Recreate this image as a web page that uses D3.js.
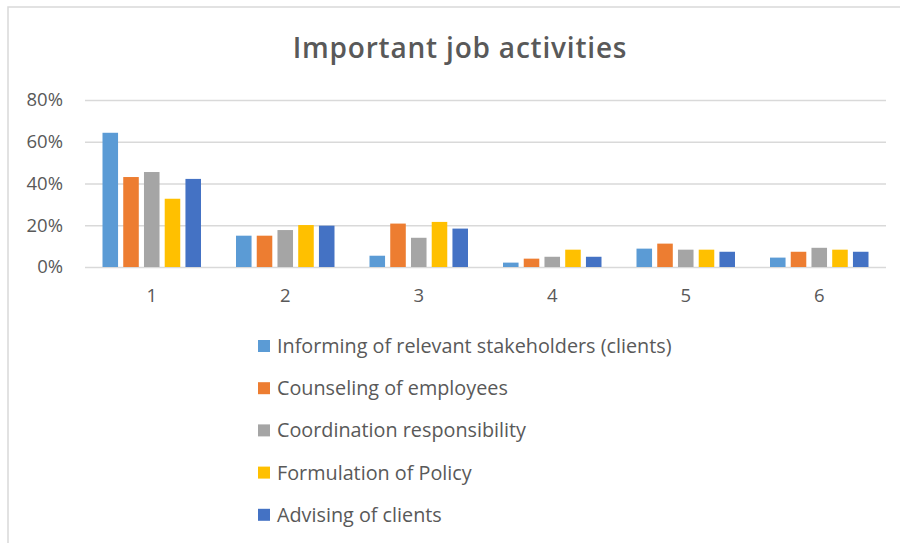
<!DOCTYPE html>
<html>
<head>
<meta charset="utf-8">
<script src="https://cdnjs.cloudflare.com/ajax/libs/d3/7.8.5/d3.min.js"></script>
<style>
  body { margin: 0; background: #fff; }
  svg { display: block; font-family: "Open Sans", sans-serif; }
</style>
</head>
<body>
<svg class="chart"></svg>
<script>
const size = {w: 900, h: 543};

// groups on the x axis
const categories = ['1', '2', '3', '4', '5', '6'];
// series names, in legend order
const seriesNames = [
    'Informing of relevant stakeholders (clients)',
    'Counseling of employees',
    'Coordination responsibility',
    'Formulation of Policy',
    'Advising of clients'
];
const seriesColors = ['#5B9BD5', '#ED7D31', '#A5A5A5', '#FFC000', '#4472C4'];

// values per series (fraction), one per category
const informing = [0.643, 0.150, 0.054, 0.021, 0.088, 0.045];
const counseling = [0.431, 0.150, 0.208, 0.040, 0.112, 0.073];
const coordination = [0.455, 0.177, 0.140, 0.049, 0.083, 0.092];
const policy = [0.327, 0.201, 0.216, 0.083, 0.083, 0.083];
const advising = [0.422, 0.198, 0.184, 0.049, 0.073, 0.073];
const seriesValues = [informing, counseling, coordination, policy, advising];

const yTicks = [0, 0.2, 0.4, 0.6, 0.8];

const plot = {left: 85, right: 886, top: 100, bottom: 267};

const svg = d3.select('svg.chart')
    .attr('width', size.w)
    .attr('height', size.h);

// chart area border (cut off by the picture on the right and bottom)
svg.append('rect')
    .attr('x', 8)
    .attr('y', 7)
    .attr('width', size.w + 20)
    .attr('height', size.h + 20)
    .attr('fill', 'none')
    .attr('stroke', '#d9d9d9')
    .attr('stroke-width', 1.5);

svg.append('text')
    .attr('x', 460)
    .attr('y', 58)
    .attr('text-anchor', 'middle')
    .attr('font-size', 28)
    .attr('font-weight', 600)
    .attr('letter-spacing', 0.8)
    .attr('fill', '#595959')
    .text('Important job activities');

const x = d3.scaleBand()
    .domain(categories)
    .range([plot.left, plot.right]);

const xInner = d3.scaleBand()
    .domain(d3.range(seriesNames.length))
    .range([17.5, x.bandwidth() - 17.5])
    .paddingInner(0.25);

const y = d3.scaleLinear()
    .domain([0, 0.8])
    .range([plot.bottom, plot.top]);

// gridlines + y labels
const yAxis = d3.axisLeft(y)
    .tickValues(yTicks)
    .tickFormat(d3.format('.0%'))
    .tickSize(-(plot.right - plot.left))
    .tickPadding(22);

const yG = svg.append('g')
    .attr('transform', `translate(${plot.left},0)`)
    .call(yAxis);
yG.select('.domain').remove();
yG.selectAll('line').attr('stroke', '#d9d9d9').attr('stroke-width', 1.3);
yG.selectAll('text')
    .attr('fill', '#595959')
    .attr('font-size', 18.5)
    .attr('font-family', '"Open Sans", sans-serif');

// bars
const groups = svg.append('g')
    .selectAll('g')
    .data(categories)
    .join('g')
    .attr('transform', d => `translate(${x(d)},0)`);

groups.selectAll('rect')
    .data((d, i) => seriesValues.map((vals, s) => ({s: s, v: vals[i]})))
    .join('rect')
    .attr('x', d => xInner(d.s))
    .attr('width', xInner.bandwidth())
    .attr('y', d => y(d.v))
    .attr('height', d => plot.bottom - y(d.v))
    .attr('fill', d => seriesColors[d.s]);

// x labels
const xAxis = d3.axisBottom(x).tickSize(0).tickPadding(22);
const xG = svg.append('g')
    .attr('transform', `translate(0,${plot.bottom})`)
    .call(xAxis);
xG.select('.domain').remove();
xG.selectAll('text')
    .attr('fill', '#595959')
    .attr('font-size', 18.5)
    .attr('font-family', '"Open Sans", sans-serif');

// legend
const legend = svg.append('g')
    .selectAll('g')
    .data(seriesNames)
    .join('g')
    .attr('transform', (d, i) => `translate(258,${346 + i * 42.2})`);

legend.append('rect')
    .attr('x', 0)
    .attr('y', -6)
    .attr('width', 12)
    .attr('height', 12)
    .attr('fill', (d, i) => seriesColors[i]);

legend.append('text')
    .attr('x', 19)
    .attr('y', 0)
    .attr('dy', '0.35em')
    .attr('font-size', 19.8)
    .attr('fill', '#595959')
    .text(d => d);
</script>
</body>
</html>
